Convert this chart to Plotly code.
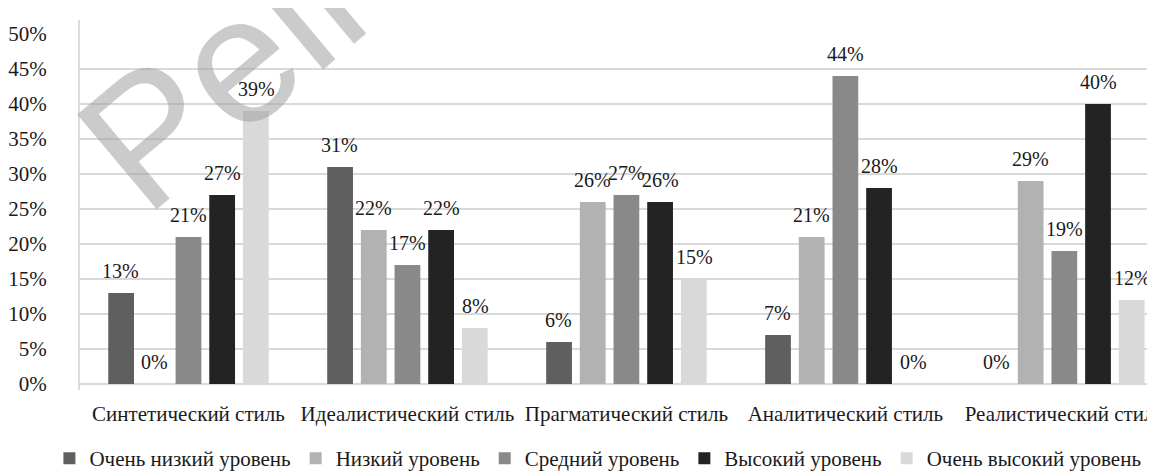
import plotly.graph_objects as go

categories = ["Синтетический стиль", "Идеалистический стиль", "Прагматический стиль",
              "Аналитический стиль", "Реалистический стиль"]
series_names = ["Очень низкий уровень", "Низкий уровень", "Средний уровень",
                "Высокий уровень", "Очень высокий уровень"]
very_low = [13, 31, 6, 7, 0]
low = [0, 22, 26, 21, 29]
medium = [21, 17, 27, 44, 19]
high = [27, 22, 26, 28, 40]
very_high = [39, 8, 15, 0, 12]
y_tick_values = [0, 5, 10, 15, 20, 25, 30, 35, 40, 45, 50]
y_tick_labels = [f"{v}%" for v in y_tick_values]

series_values = [very_low, low, medium, high, very_high]
colors = ["#5f5f5f", "#b2b2b2", "#898989", "#232323", "#d9d9d9"]

FONT = "Liberation Serif"
W, H = 1155, 471
ML, MR, MT, MB = 69, 0, 26, 87
PLOT_W = W - ML - MR
CAT_PX = 221.0
X_RANGE = [-0.5, -0.5 + PLOT_W / CAT_PX]
BARGAP = 0.231
BARGROUPGAP = 0.235
n_series = len(series_values)
slot_px = CAT_PX * (1 - BARGAP) / n_series

fig = go.Figure()
for name, vals, col in zip(series_names, series_values, colors):
    fig.add_trace(go.Bar(
        x=categories, y=vals, name=name,
        marker=dict(color=col, line=dict(width=0)),
    ))

# watermark
fig.add_annotation(
    text="Pell", xref="paper", yref="paper", x=0.131, y=0.885,
    xanchor="center", yanchor="middle", textangle=-40, showarrow=False,
    font=dict(family="Liberation Sans", size=180,
              color="rgba(160,160,160,0.55)"),
)

# data labels
for j, vals in enumerate(series_values):
    for cat, v in zip(categories, vals):
        fig.add_annotation(
            x=cat, y=v, text=f"{v}%", showarrow=False,
            xanchor="center", yanchor="bottom",
            xshift=(j - (n_series - 1) / 2) * slot_px, yshift=9,
            font=dict(family=FONT, size=20, color="#1a1a1a"),
        )

# left axis line
fig.add_shape(type="line", xref="paper", yref="paper", x0=0, x1=0,
              y0=-0.017, y1=1.04, line=dict(color="#d0d0d0", width=1.5))

fig.update_layout(
    width=W, height=H,
    margin=dict(l=ML, r=MR, t=MT, b=MB),
    paper_bgcolor="white", plot_bgcolor="white",
    barmode="group", bargap=BARGAP, bargroupgap=BARGROUPGAP,
    font=dict(family=FONT, size=21, color="#1a1a1a"),
    showlegend=True,
    legend=dict(orientation="h", x=-0.0275, xanchor="left", y=-0.214, yanchor="middle",
                font=dict(family=FONT, size=21, color="#1a1a1a"),
                bgcolor="rgba(0,0,0,0)", traceorder="normal"),
    xaxis=dict(type="category", range=X_RANGE, showgrid=False, showline=False,
               zeroline=False, ticks="outside", ticklen=0, tickcolor="rgba(0,0,0,0)",
               ticklabelstandoff=11, tickfont=dict(family=FONT, size=21)),
    yaxis=dict(range=[0, 50], tickvals=y_tick_values, ticktext=y_tick_labels,
               showgrid=True, gridcolor="#d9d9d9", gridwidth=1.8,
               zeroline=True, zerolinecolor="#d9d9d9", zerolinewidth=2,
               showline=False, ticks="outside", ticklen=0, tickcolor="rgba(0,0,0,0)",
               ticklabelstandoff=27, tickfont=dict(family=FONT, size=21)),
)

fig.write_html("out.html")
